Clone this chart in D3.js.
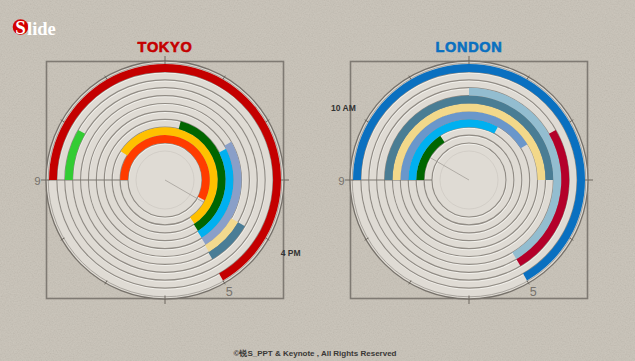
<!DOCTYPE html>
<html><head><meta charset="utf-8">
<script src="https://cdn.jsdelivr.net/npm/d3@7"></script>
<style>html,body{margin:0;padding:0;background:#c8c2b7;overflow:hidden}</style>
</head><body><svg id="c" width="635" height="361"></svg>
<script>
// ---- data ----
const tracks = [1,2,3,4,5,6,7,8,9,10];
const tokyoStart  = [9, 10.1, 12.5, 14.1, 14.0, 16.0, 16.0, 9, null, 9];
const tokyoEnd    = [15.9, 16.87, 16.9, 16.92, 16.93, 16.95, 16.97, 10, null, 17];
const tokyoColors = ["#ff3c00","#ffc000","#006600","#00b0f0","#8a9fc8","#f2d98e","#4a7d96","#33cc33",null,"#c40000"];
const londonStart  = [null, 9, 9, 9, 9, 9, 12, 14, null, 9];
const londonEnd    = [null, 10.9, 12.95, 13.95, 15, 15, 16.97, 16.97, null, 17];
const londonColors = [null,"#006600","#00b0f0","#6a97cb","#f2d88a","#4a7d94","#93bdd0","#b4002a",null,"#0a70c0"];
const hourTicks = d3.range(12, 24);
const edgeLabels = [{h:9, t:"9"}, {h:17, t:"5"}];
const cities = [
  {name:"TOKYO",  color:"#c40000", cx:165, start:tokyoStart,  end:tokyoEnd,  colors:tokyoColors,  hand:16, handLabel:"4 PM"},
  {name:"LONDON", color:"#0a70c0", cx:469, start:londonStart, end:londonEnd, colors:londonColors, hand:10, handLabel:"10 AM"}
];

const W = 635, H = 361, cy = 180;
const svg = d3.select("#c");
const defs = svg.append("defs");
const f = defs.append("filter").attr("id","paper").attr("x",0).attr("y",0).attr("width","100%").attr("height","100%");
f.append("feTurbulence").attr("type","fractalNoise").attr("baseFrequency",0.75).attr("numOctaves",3).attr("seed",7);
f.append("feColorMatrix").attr("type","matrix").attr("values","1 0 0 0 0  1 0 0 0 0  1 0 0 0 0  0 0 0 0 1");

svg.append("rect").attr("width",W).attr("height",H).attr("fill","#c8c2b7");
svg.append("rect").attr("width",W).attr("height",H).attr("filter","url(#paper)").attr("opacity",0.09);

const angle = d3.scaleLinear().domain([12, 24]).range([0, 2*Math.PI]);
const radius = d3.scaleLinear().domain([1, 11]).range([37, 116]);
const pt = (cx, h, r) => [cx + r*Math.sin(angle(h)), cy - r*Math.cos(angle(h))];

cities.forEach(c => {
  const g = svg.append("g");
  const half = 118.5;
  g.append("rect").attr("x", c.cx-half).attr("y", cy-half).attr("width", 2*half).attr("height", 2*half)
    .attr("fill","none").attr("stroke","#7f7a73").attr("stroke-width",1.6);
  g.append("circle").attr("cx",c.cx).attr("cy",cy).attr("r",119).attr("fill","#dfdbd4");
  g.append("circle").attr("cx",c.cx).attr("cy",cy).attr("r",119).attr("fill","none").attr("stroke","#76716a").attr("stroke-width",1.3);
  g.append("circle").attr("cx",c.cx).attr("cy",cy).attr("r",116.8).attr("fill","none").attr("stroke","#a39e97").attr("stroke-width",0.9);
  const lines = d3.range(1, 11);
  g.selectAll(".rl").data(lines).join("circle")
    .attr("cx",c.cx+0.4).attr("cy",cy+1).attr("r",d=>radius(d)).attr("fill","none")
    .attr("stroke","#f6f4f0").attr("stroke-width",1.2).attr("opacity",0.85);
  g.selectAll(".rd").data(lines).join("circle")
    .attr("cx",c.cx).attr("cy",cy).attr("r",d=>radius(d)).attr("fill","none")
    .attr("stroke","#918c85").attr("stroke-width",1.2);
  g.append("circle").attr("cx",c.cx).attr("cy",cy).attr("r",29).attr("fill","none").attr("stroke","#d0ccc5").attr("stroke-width",0.9);
  const a9 = pt(c.cx, 9, radius(1)), b9 = pt(c.cx, 9, 116.5);
  g.append("line").attr("x1",a9[0]).attr("y1",a9[1]).attr("x2",b9[0]).attr("y2",b9[1]).attr("stroke","#7d7870").attr("stroke-width",1.2);
  const hp = pt(c.cx, c.hand, 56);
  g.append("line").attr("x1",c.cx).attr("y1",cy).attr("x2",hp[0]).attr("y2",hp[1]).attr("stroke","#9a958e").attr("stroke-width",0.9).attr("opacity",0.75);
  g.selectAll(".tk").data(hourTicks).join("line")
    .each(function(h){
      const quarter = (h % 3 === 0);
      const p1 = pt(c.cx, h, quarter ? 115.5 : 116), p2 = pt(c.cx, h, quarter ? 124 : 120.5);
      d3.select(this).attr("x1",p1[0]).attr("y1",p1[1]).attr("x2",p2[0]).attr("y2",p2[1]);
    })
    .attr("stroke","#6c675f").attr("stroke-width",1);
  const arc = d3.arc();
  const data = tracks.map((t,i)=>({t, s:c.start[i], e:c.end[i], col:c.colors[i]})).filter(d=>d.s!=null);
  g.selectAll(".arc").data(data).join("path")
    .attr("transform",`translate(${c.cx},${cy})`)
    .attr("d", d => arc({innerRadius: radius(d.t), outerRadius: radius(d.t+1), startAngle: angle(d.s), endAngle: angle(d.e)}))
    .attr("fill", d => d.col);
  svg.append("text").attr("x",c.cx).attr("y",52).attr("text-anchor","middle")
    .attr("font-family","'Liberation Sans',Arial,sans-serif").attr("font-weight","bold")
    .attr("font-size",14.5).attr("letter-spacing",0.7).attr("fill",c.color)
    .attr("stroke",c.color).attr("stroke-width",0.6).text(c.name);
  edgeLabels.forEach(l => {
    const p = pt(c.cx, l.h, l.h===9 ? 127.5 : 128.5);
    svg.append("text").attr("x",p[0]).attr("y",p[1]+4.5).attr("text-anchor","middle")
      .attr("font-family","'Liberation Sans',Arial,sans-serif").attr("font-size",l.h===9?11.5:12.5)
      .attr("fill","#76726c").text(l.t);
  });
  const lp = pt(c.cx, c.hand, 145);
  svg.append("text").attr("x",lp[0]).attr("y",lp[1]+3).attr("text-anchor","middle")
    .attr("font-family","'Liberation Sans',Arial,sans-serif").attr("font-weight","bold")
    .attr("font-size",8.5).attr("fill","#333").text(c.handLabel);
});

// logo
svg.append("circle").attr("cx",20.5).attr("cy",27).attr("r",7.8).attr("fill","#d40000");
svg.append("text").attr("x",20.5).attr("y",33.5).attr("text-anchor","middle")
  .attr("font-family","'Liberation Serif','DejaVu Serif',serif").attr("font-weight","bold")
  .attr("font-size",19).attr("fill","#fff").text("S");
svg.append("text").attr("x",27).attr("y",35).attr("font-family","'Liberation Serif','DejaVu Serif',serif")
  .attr("font-weight","bold").attr("font-size",18.5).attr("fill","#fff").text("lide");

// footer
svg.append("text").attr("x",315).attr("y",356).attr("text-anchor","middle")
  .attr("font-family","'Liberation Sans',Arial,sans-serif").attr("font-weight","bold")
  .attr("font-size",8).attr("fill","#3a3836").text("©锐S_PPT & Keynote , All Rights Reserved");
</script></body></html>
